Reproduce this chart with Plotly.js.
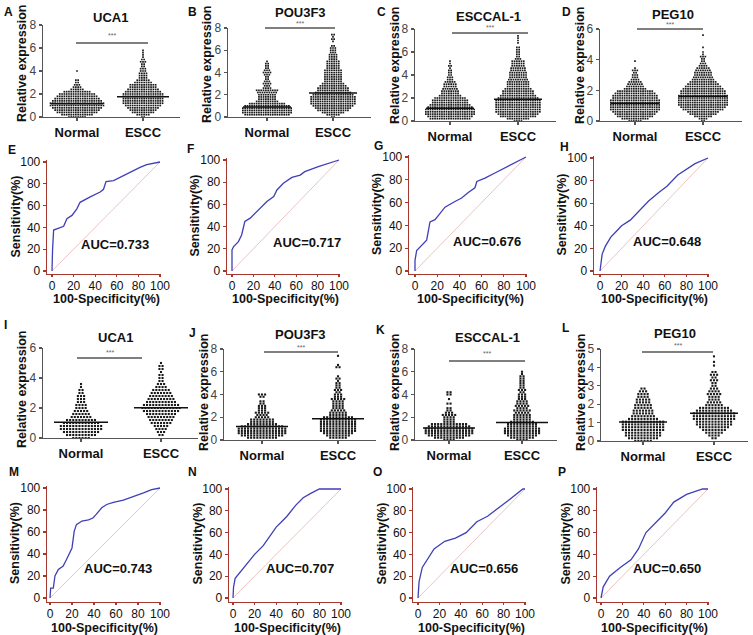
<!DOCTYPE html>
<html><head><meta charset="utf-8">
<script src="https://cdn.plot.ly/plotly-3.0.1.min.js"></script>
<style>html,body{margin:0;padding:0;background:#fff}#chart{width:753px;height:635px}</style>
</head><body><div id="chart"></div>
<script>
const W = 753, H = 635;
const FONT = 'Arial, "Liberation Sans", sans-serif';

// ---------- labels ----------
const genes = ["UCA1", "POU3F3", "ESCCAL-1", "PEG10"];
const groupLabels = ["Normal", "ESCC"];
const yTitleScatter = "Relative expression";
const yTitleRoc = "Sensitivity(%)";
const xTitleRoc = "100-Specificity(%)";
const sigText = "***";

// ---------- scatter data: value rows (lv) and number of dots in each row (n) ----------
// A  UCA1 (training)
const A_norm_lv = [0,0.2,0.4,0.6,0.8,1.0,1.2,1.4,1.6,1.8,2.0,2.2,2.4,2.6,2.8,3.0,3.2,4.0];
const A_norm_n  = [8,14,18,20,22,24,24,22,20,18,16,12,6,4,3,2,2,1];
const A_escc_lv = [0,0.2,0.4,0.6,0.8,1.0,1.2,1.4,1.6,1.8,2.0,2.2,2.4,2.6,2.8,3.0,3.2,3.4,3.6,3.8,4.0,4.2,4.4,4.6,4.8,5.0,5.2,5.4,5.6,5.8];
const A_escc_n  = [2,6,10,12,14,16,18,18,18,18,18,16,14,12,12,8,6,4,4,4,3,3,2,2,3,2,1,1,1,1];
// B  POU3F3 (training)
const B_norm_lv = [0.2,0.4,0.6,0.8,1.0,1.2,1.4,1.6,1.8,2.0,2.2,2.4,2.6,2.8,3.0,3.2,3.4,3.6,3.8,4.0,4.2,4.4,4.6,4.8,5.0];
const B_norm_n  = [20,22,22,22,20,16,10,8,8,8,9,10,4,3,4,3,2,2,3,4,3,2,2,2,1];
const B_escc_lv = [0,0.2,0.4,0.6,0.8,1.0,1.2,1.4,1.6,1.8,2.0,2.2,2.4,2.6,2.8,3.0,3.2,3.4,3.6,3.8,4.0,4.2,4.4,4.6,4.8,5.0,5.2,5.4,5.6,5.8,6.0,6.2,6.4,6.8,7.0,7.2,7.4];
const B_escc_n  = [2,6,10,14,16,18,20,20,20,20,18,16,14,14,12,10,8,8,8,8,8,8,6,6,6,6,4,4,4,3,3,3,2,1,2,1,2];
// C  ESCCAL-1 (training)
const C_norm_lv = [0.2,0.4,0.6,0.8,1.0,1.2,1.4,1.6,1.8,2.0,2.2,2.4,2.6,2.8,3.0,3.2,3.4,3.6,3.8,4.0,4.2,4.4,4.6,4.8,5.0,5.2];
const C_norm_n  = [18,20,22,22,22,20,18,16,16,14,10,8,8,7,6,6,5,3,3,2,2,2,1,2,1,1];
const C_escc_lv = [0,0.2,0.4,0.6,0.8,1.0,1.2,1.4,1.6,1.8,2.0,2.2,2.4,2.6,2.8,3.0,3.2,3.4,3.6,3.8,4.0,4.2,4.4,4.6,4.8,5.0,5.2,5.4,5.6,5.8,6.0,6.2,6.4,6.8,7.0,7.2,7.4];
const C_escc_n  = [4,10,16,18,20,20,20,20,20,20,18,16,14,14,12,10,10,10,9,8,8,8,7,7,6,6,6,3,2,2,2,2,2,1,1,1,1];
// D  PEG10 (training)
const D_norm_lv = [0,0.15,0.3,0.45,0.6,0.75,0.9,1.05,1.2,1.35,1.5,1.65,1.8,1.95,2.1,2.25,2.4,2.55,2.7,2.85,3.0,3.15,3.3,3.45,3.9];
const D_norm_n  = [6,12,16,18,20,22,22,22,22,22,20,20,18,16,10,8,7,6,4,3,3,2,3,1,1];
const D_escc_lv = [0,0.15,0.3,0.45,0.6,0.75,0.9,1.05,1.2,1.35,1.5,1.65,1.8,1.95,2.1,2.25,2.4,2.55,2.7,2.85,3.0,3.15,3.3,3.45,3.6,3.75,3.9,4.05,4.2,4.35,4.5,4.8,5.6];
const D_escc_n  = [2,4,8,12,14,18,20,22,22,22,22,22,20,20,18,16,14,12,10,9,8,8,7,6,4,3,2,2,3,1,1,1,1];
// I  UCA1 (validation)
const I_norm_lv = [0,0.2,0.4,0.6,0.8,1.0,1.2,1.4,1.6,1.8,2.0,2.2,2.4,2.6,2.8,3.0,3.2,3.4,3.6];
const I_norm_n  = [6,10,12,14,14,12,10,7,6,5,4,4,3,3,3,2,2,1,1];
const I_escc_lv = [0.2,0.4,0.6,0.8,1.0,1.2,1.4,1.6,1.8,2.0,2.2,2.4,2.6,2.8,3.0,3.2,3.4,3.6,3.8,4.0,4.2,4.4,4.6,4.8,5.0];
const I_escc_n  = [2,3,4,5,7,8,9,10,12,13,12,10,9,8,7,6,4,3,2,2,2,1,2,2,1];
// J  POU3F3 (validation)
const J_norm_lv = [0.2,0.4,0.6,0.8,1.0,1.2,1.4,1.6,1.8,2.0,2.2,2.4,2.6,2.8,3.0,3.2,3.4,3.8,4.0];
const J_norm_n  = [10,14,16,16,16,14,10,8,8,5,4,5,3,3,3,2,2,2,3];
const J_escc_lv = [0.2,0.4,0.6,0.8,1.0,1.2,1.4,1.6,1.8,2.0,2.2,2.4,2.6,2.8,3.0,3.2,3.4,3.6,3.8,4.0,4.2,4.4,4.6,4.8,5.0,5.2,5.4,5.6,6.4,6.6,7.4];
const J_escc_n  = [6,8,10,12,12,12,12,12,12,10,6,6,5,4,4,4,4,5,3,3,2,3,2,2,2,1,2,1,2,1,1];
// K  ESCCAL-1 (validation)
const K_norm_lv = [0,0.2,0.4,0.6,0.8,1.0,1.2,1.4,1.6,1.8,2.0,2.2,2.4,2.6,2.8,3.2,3.6,4.0,4.2];
const K_norm_n  = [4,10,14,16,16,16,14,12,4,4,4,5,3,2,2,2,1,2,2];
const K_escc_lv = [0,0.2,0.4,0.6,0.8,1.0,1.2,1.4,1.6,1.8,2.0,2.2,2.4,2.6,2.8,3.0,3.2,3.4,3.6,3.8,4.0,4.2,4.4,4.6,4.8,5.0,5.2,5.4,5.6,5.8,6.0];
const K_escc_n  = [4,8,10,12,12,12,10,10,8,6,6,6,5,6,4,5,4,4,3,3,3,2,3,2,2,2,2,2,2,1,1];
// L  PEG10 (validation)
const L_norm_lv = [0,0.15,0.3,0.45,0.6,0.75,0.9,1.05,1.2,1.35,1.5,1.65,1.8,1.95,2.1,2.25,2.4,2.55,2.7,2.85];
const L_norm_n  = [6,10,12,12,14,14,14,14,10,8,7,7,6,6,5,5,4,4,3,2];
const L_escc_lv = [0.15,0.3,0.45,0.6,0.75,0.9,1.05,1.2,1.35,1.5,1.65,1.8,1.95,2.1,2.25,2.4,2.55,2.7,2.85,3.0,3.15,3.3,3.45,3.6,3.75,4.1,4.3,4.6];
const L_escc_n  = [2,4,6,8,10,12,12,14,14,14,12,10,6,5,4,4,5,4,3,2,2,3,2,3,2,1,1,1];

// medians [Normal, ESCC]
const A_median = [1.15, 1.75];
const B_median = [0.9, 2.15];
const C_median = [1.1, 1.9];
const D_median = [1.15, 1.62];
const I_median = [1.05, 2.02];
const J_median = [1.18, 1.86];
const K_median = [1.06, 1.53];
const L_median = [1.03, 1.51];

// ---------- ROC data (100-specificity %, sensitivity %) ----------
const E_fpr = [0,0,0.5,1.5,6,10.8,13.8,18.5,23,26,35.4,44.6,47.7,50,57,63,72,81.5,87.7,94,100];
const E_tpr = [0,4,19,37.6,39,41,48,51,57,63,68,72.5,75,82,83,86,91,95,97.5,98.5,100];
const F_fpr = [0,0,0,1.5,6,9,12,17,21.7,26,32.6,39,42,48,56,63.7,68,80.7,93,100];
const F_tpr = [0,8,19,22,26.5,32.5,44.6,47.6,52,56.6,62.6,67,73,79,84.3,86.4,89.5,94,97.6,100];
const G_fpr = [0,0,1.5,6,10.5,13.5,18,22.6,27,36,42,48,54,55.7,63,72,84,93,100];
const G_tpr = [0,9.4,18,22.6,27,43,45,50.6,56,61,64,68.8,73,78.5,81.5,86,91.8,96,100];
const H_fpr = [0,1,2,5,10,15,20,28,38,45,55,62,72,80,88,100];
const H_tpr = [0,8,15,22,30,35,40,45,55,62,70,75,85,90,95,100];
const M_fpr = [0,0.6,3,4.5,7.6,12,15,18,20,21,22,24,29,35,39,42,47,51.5,57.6,66.7,75.8,85,92.4,100];
const M_tpr = [0,9,9,20,26,29,35,41,45.5,53,60.6,66.7,70,71,72.7,76,82,85,87,89,92,95.5,98.5,100];
const N_fpr = [0,0.5,2,8,14,20,28,33,40,45,50,58,65,72,80,85,100];
const N_tpr = [0,10,18,25,32,40,48,55,65,70,75,85,92,96,100,100,100];
const O_fpr = [0,0.5,1,4,10,15,25,35,45,55,65,72,85,98,100];
const O_tpr = [0,8,15,28,38,45,52,55,60,70,75,80,90,100,100];
const P_fpr = [0,2,8,18,28,35,42,50,60,68,80,95,100];
const P_tpr = [0,10,20,28,35,45,60,68,78,88,95,100,100];
const diagX = [0, 100];
const diagY = [0, 100];
const aucTrain = [0.733, 0.717, 0.676, 0.648];
const aucTest  = [0.743, 0.707, 0.656, 0.650];

// ---------- layout helpers (pixel geometry) ----------
const AXG = '#555';
const AXR = '#a5372f';
const traces = [];
const layout = {
  width: W, height: H, margin: {l:0, r:0, t:0, b:0}, showlegend: false,
  paper_bgcolor: '#ffffff', plot_bgcolor: 'rgba(0,0,0,0)',
  annotations: [], shapes: [], font: {family: FONT}
};
let axN = 0;
function newAxes() {
  axN++;
  const s = axN === 1 ? '' : String(axN);
  return {xa: 'xaxis' + s, ya: 'yaxis' + s, xr: 'x' + s, yr: 'y' + s};
}
const px = p => p / W;
const py = p => 1 - p / H;
function textAt(x, y, text, opts) {
  layout.annotations.push(Object.assign({
    xref: 'paper', yref: 'paper', x: px(x), y: py(y), text: text, showarrow: false,
    xanchor: 'center', yanchor: 'middle',
    font: {family: FONT, size: 13, color: '#111', weight: 'bold'}
  }, opts || {}));
}

function scatterPanel(c, groups, median, gene, letter) {
  const ax = newAxes();
  const k = c.cE - c.cN;
  const xmin = -(c.cN - c.xL) / k, xmax = 1 + (c.xR - c.cE) / k;
  layout[ax.xa] = {
    domain: [px(c.xL), px(c.xR)], range: [xmin, xmax], anchor: ax.yr,
    tickmode: 'array', tickvals: [0, 1], ticktext: groupLabels,
    showline: true, linecolor: AXG, linewidth: 1.3, ticks: 'outside', ticklen: 3, tickcolor: AXG, tickwidth: 1.2,
    showgrid: false, zeroline: false, fixedrange: true,
    tickfont: {family: FONT, size: 13, color: '#111', weight: 'bold'}
  };
  layout[ax.ya] = {
    domain: [py(c.y0), py(c.yTop)], range: [0, c.ymax], anchor: ax.xr,
    tickmode: 'linear', tick0: 0, dtick: c.dtick,
    showline: true, linecolor: AXG, linewidth: 1.3, ticks: 'outside', ticklen: 3, tickcolor: AXG, tickwidth: 1.2,
    showgrid: false, zeroline: false, fixedrange: true,
    tickfont: {family: FONT, size: 12, color: '#444'}
  };
  const dx = c.dotPx / k;
  groups.forEach((g, gi) => {
    const xs = [], ys = [];
    g.lv.forEach((v, i) => {
      const n = g.n[i];
      for (let j = 0; j < n; j++) { xs.push(gi + (j - (n - 1) / 2) * dx); ys.push(v); }
    });
    traces.push({type: 'scatter', mode: 'markers', x: xs, y: ys, xaxis: ax.xr, yaxis: ax.yr,
      marker: {symbol: 'square', size: c.dotSize, color: '#1a1a1a', line: {width: 0}},
      cliponaxis: false, hoverinfo: 'skip'});
    const hw = c.medPx / 2 / k;
    traces.push({type: 'scatter', mode: 'lines', x: [gi - hw, gi + hw], y: [median[gi], median[gi]],
      xaxis: ax.xr, yaxis: ax.yr, line: {color: '#111', width: 1.5}, cliponaxis: false, hoverinfo: 'skip'});
  });
  // significance bar
  layout.shapes.push({type: 'line', xref: 'paper', yref: 'paper',
    x0: px(c.sig[0]), x1: px(c.sig[1]), y0: py(c.sig[2]), y1: py(c.sig[2]), line: {color: AXG, width: 1.3}});
  textAt((c.sig[0] + c.sig[1]) / 2, c.sig[3], sigText, {font: {family: FONT, size: 7, color: '#666'}});
  textAt(c.title[0], c.title[1], gene, {font: {family: FONT, size: 13, color: '#111', weight: 'bold'}});
  textAt(c.yt[0], c.yt[1], yTitleScatter, {textangle: -90, font: {family: FONT, size: 12.5, color: '#111', weight: 'bold'}});
  textAt(c.let[0], c.let[1], letter, {xanchor: 'left', font: {family: FONT, size: 12, color: '#111', weight: 'bold'}});
}

function rocPanel(c, fpr, tpr, auc, letter) {
  const ax = newAxes();
  const kx = (c.x100 - c.x0) / 100, ky = (c.y0 - c.y100) / 100;
  layout[ax.xa] = {
    domain: [px(c.xL), px(c.x100 + 1)], range: [-(c.x0 - c.xL) / kx, 100 + 1 / kx], anchor: ax.yr,
    tickmode: 'array', tickvals: [0, 20, 40, 60, 80, 100],
    showline: true, linecolor: AXR, linewidth: 1.3, ticks: 'outside', ticklen: 2, tickcolor: AXR, tickwidth: 1.2,
    ticklabelstandoff: -2,
    showgrid: false, zeroline: false, fixedrange: true,
    tickfont: {family: FONT, size: 12, color: '#111'}
  };
  layout[ax.ya] = {
    domain: [py(c.yB), py(c.y100 - 2)], range: [-(c.yB - c.y0) / ky, 100 + 2 / ky], anchor: ax.xr,
    tickmode: 'array', tickvals: [0, 20, 40, 60, 80, 100],
    showline: true, linecolor: AXR, linewidth: 1.3, ticks: 'outside', ticklen: 3, tickcolor: AXR, tickwidth: 1.2,
    showgrid: false, zeroline: false, fixedrange: true,
    tickfont: {family: FONT, size: 12, color: '#111'}
  };
  traces.push({type: 'scatter', mode: 'lines', x: diagX, y: diagY, xaxis: ax.xr, yaxis: ax.yr,
    line: {color: '#e7b4b4', width: 0.8}, hoverinfo: 'skip'});
  traces.push({type: 'scatter', mode: 'lines', x: fpr, y: tpr, xaxis: ax.xr, yaxis: ax.yr,
    line: {color: '#3f3fb8', width: 1.3}, cliponaxis: false, hoverinfo: 'skip'});
  layout.annotations.push({xref: ax.xr, yref: ax.yr, x: c.auc[0], y: c.auc[1], text: 'AUC=' + auc.toFixed(3),
    showarrow: false, xanchor: 'center', yanchor: 'middle', font: {family: FONT, size: 13, color: '#111', weight: 'bold'}});
  textAt(c.xL - 32, (c.y0 + c.y100) / 2, yTitleRoc, {textangle: -90, font: {family: FONT, size: 12.5, color: '#111', weight: 'bold'}});
  textAt((c.x0 + c.x100) / 2, c.yB + 25.5, xTitleRoc, {font: {family: FONT, size: 12.5, color: '#111', weight: 'bold'}});
  textAt(c.let[0], c.let[1], letter, {xanchor: 'left', font: {family: FONT, size: 12, color: '#111', weight: 'bold'}});
}

// ---------- panel geometry ----------
const scatterCfg = [
  {xL:43,  cN:77,  cE:143, xR:180, y0:117, yTop:25, ymax:8, dtick:2, dotPx:2.3, dotSize:1.7, medPx:52, sig:[76,148,43,35],  title:[110,17], yt:[22,64],  let:[2,12]},
  {xL:228, cN:267, cE:333, xR:371, y0:117, yTop:28, ymax:8, dtick:2, dotPx:2.3, dotSize:1.7, medPx:48, sig:[265,335,28,23.5], title:[300,13], yt:[207,64], let:[186,12]},
  {xL:415, cN:450, cE:518, xR:556, y0:121, yTop:29, ymax:8, dtick:2, dotPx:2.3, dotSize:1.7, medPx:48, sig:[452,528,33,27.5], title:[488,16], yt:[395,66], let:[375,12]},
  {xL:600, cN:635, cE:703, xR:742, y0:121, yTop:29, ymax:6, dtick:2, dotPx:2.3, dotSize:1.7, medPx:49, sig:[637,703,29,24.5], title:[673,14], yt:[580,66], let:[560,12]},
  {xL:43,  cN:81,  cE:161, xR:198, y0:438, yTop:348, ymax:6, dtick:2, dotPx:3.1, dotSize:2.1, medPx:54, sig:[77,142,358,352],  title:[115,337], yt:[22,390],  let:[2,325]},
  {xL:224, cN:262, cE:338, xR:376, y0:440, yTop:349, ymax:8, dtick:2, dotPx:3.1, dotSize:2.1, medPx:52, sig:[264,338,352,347.5], title:[300,335], yt:[204,393], let:[187,333]},
  {xL:415, cN:449, cE:522, xR:557, y0:440, yTop:349, ymax:8, dtick:2, dotPx:3.1, dotSize:2.1, medPx:52, sig:[449,525,361,353], title:[487,337], yt:[395,393], let:[374,330]},
  {xL:601, cN:643, cE:714, xR:748, y0:441, yTop:349, ymax:5, dtick:1, dotPx:3.1, dotSize:2.1, medPx:48, sig:[642,713,352,345], title:[675,333], yt:[581,393], let:[560,328]}
];
const rocCfg = [
  {xL:47,  x0:52,  x100:160, yB:274, y0:271, y100:162, auc:[58,24], let:[6,150]},
  {xL:227, x0:232, x100:339, yB:274, y0:271, y100:160, auc:[70,26], let:[185,149]},
  {xL:409, x0:415, x100:526, yB:274, y0:271, y100:157, auc:[65,26], let:[372,146]},
  {xL:594, x0:600, x100:708, yB:274, y0:271, y100:158, auc:[62,26], let:[558,147]},
  {xL:47,  x0:50,  x100:160, yB:602, y0:598, y100:488, auc:[62,27], let:[7,472]},
  {xL:229, x0:233, x100:341, yB:602, y0:598, y100:489, auc:[62,27], let:[186,472]},
  {xL:413, x0:418, x100:525, yB:602, y0:598, y100:489, auc:[62,27], let:[371,472]},
  {xL:597, x0:601, x100:708, yB:602, y0:598, y100:489, auc:[62,27], let:[556,472]}
];

const scatterGroups = [
  [{lv:A_norm_lv, n:A_norm_n}, {lv:A_escc_lv, n:A_escc_n}],
  [{lv:B_norm_lv, n:B_norm_n}, {lv:B_escc_lv, n:B_escc_n}],
  [{lv:C_norm_lv, n:C_norm_n}, {lv:C_escc_lv, n:C_escc_n}],
  [{lv:D_norm_lv, n:D_norm_n}, {lv:D_escc_lv, n:D_escc_n}],
  [{lv:I_norm_lv, n:I_norm_n}, {lv:I_escc_lv, n:I_escc_n}],
  [{lv:J_norm_lv, n:J_norm_n}, {lv:J_escc_lv, n:J_escc_n}],
  [{lv:K_norm_lv, n:K_norm_n}, {lv:K_escc_lv, n:K_escc_n}],
  [{lv:L_norm_lv, n:L_norm_n}, {lv:L_escc_lv, n:L_escc_n}]
];
const scatterMedians = [A_median, B_median, C_median, D_median, I_median, J_median, K_median, L_median];
const rocData = [[E_fpr,E_tpr],[F_fpr,F_tpr],[G_fpr,G_tpr],[H_fpr,H_tpr],[M_fpr,M_tpr],[N_fpr,N_tpr],[O_fpr,O_tpr],[P_fpr,P_tpr]];
const aucAll = aucTrain.concat(aucTest);
const scatterLetters = ["A","B","C","D","I","J","K","L"];
const rocLetters = ["E","F","G","H","M","N","O","P"];

for (let i = 0; i < 8; i++) {
  scatterPanel(scatterCfg[i], scatterGroups[i], scatterMedians[i], genes[i % 4], scatterLetters[i]);
}
for (let i = 0; i < 8; i++) {
  rocPanel(rocCfg[i], rocData[i][0], rocData[i][1], aucAll[i], rocLetters[i]);
}

Plotly.newPlot('chart', traces, layout, {staticPlot: true, displayModeBar: false});
</script>
</body></html>
